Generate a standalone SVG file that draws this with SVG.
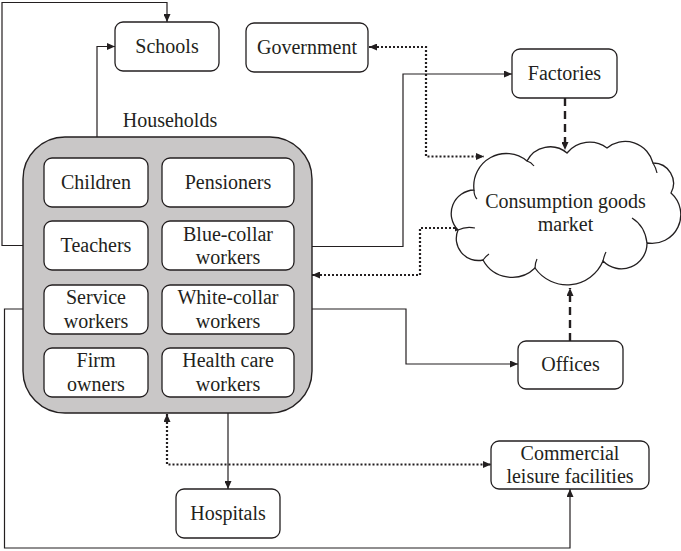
<svg xmlns="http://www.w3.org/2000/svg" width="681" height="551" viewBox="0 0 681 551">
<style>
  .box { fill: #ffffff; stroke: #231f20; stroke-width: 1.3; }
  .hh { fill: #c9c7c7; stroke: #231f20; stroke-width: 1.4; }
  .cloud { fill: #ffffff; stroke: #231f20; stroke-width: 1.3; }
  .hook { fill: none; stroke: #231f20; stroke-width: 1.2; }
  .t { font-family: 'Liberation Serif', 'DejaVu Serif', serif; font-size: 20px; fill: #231f20; text-anchor: middle; }
  .solid { fill: none; stroke: #231f20; stroke-width: 1.2; }
  .dotted { fill: none; stroke: #231f20; stroke-width: 2.2; stroke-dasharray: 2 2; }
  .dashed { fill: none; stroke: #231f20; stroke-width: 2.4; stroke-dasharray: 8 5; }
</style>
<defs>
  <marker id="arr" markerUnits="userSpaceOnUse" markerWidth="8" markerHeight="7" refX="8" refY="3.5" orient="auto-start-reverse">
    <path d="M0,0 L8,3.5 L0,7 z" fill="#231f20"/>
  </marker>
</defs>

<g id="connectors">
  <path class="solid" d="M44,245.5 H2 V2.5 H167 V22" marker-end="url(#arr)"/>
  <path class="solid" d="M97,158 V46.5 H115" marker-end="url(#arr)"/>
  <path class="solid" d="M294,246.5 H403 V74 H512" marker-end="url(#arr)"/>
  <path class="solid" d="M294,309 H406 V364 H518" marker-end="url(#arr)"/>
  <path class="solid" d="M44,309 H4.5 V548 H570 V489" marker-end="url(#arr)"/>
  <path class="solid" d="M228,397 V489" marker-end="url(#arr)"/>
  <path class="dotted" d="M369,47 H426 V156.5 H484" marker-start="url(#arr)" marker-end="url(#arr)"/>
  <path class="dotted" d="M312,275 H420 V228 H463" marker-start="url(#arr)" marker-end="url(#arr)"/>
  <path class="dotted" d="M167,414 V464.5 H491" marker-start="url(#arr)" marker-end="url(#arr)"/>
  <path class="dashed" d="M565,98 V150" marker-end="url(#arr)"/>
  <path class="dashed" d="M570,341 V288" marker-end="url(#arr)"/>
</g>

<g id="schools">
  <rect class="box" x="115" y="22" width="104" height="49" rx="8"/>
  <text class="t" x="167" y="53">Schools</text>
</g>
<g id="government">
  <rect class="box" x="246" y="23" width="122" height="49" rx="8"/>
  <text class="t" x="307" y="54">Government</text>
</g>
<g id="factories">
  <rect class="box" x="512" y="49" width="105" height="49" rx="8"/>
  <text class="t" x="564.5" y="80">Factories</text>
</g>
<g id="market">
  <path class="cloud" d="M474,190 A32.5,32.5 0 0 1 527,161 A26,26 0 0 1 567,153 A29,29 0 0 1 607,148 A28.7,28.7 0 0 1 653,163 A20.3,20.3 0 0 1 671,193 A28.8,28.8 0 0 1 647,243 A25.6,25.6 0 0 1 603,261 A39,39 0 0 1 535,268 A33,33 0 0 1 483,260 A22,22 0 0 1 458,230 A23.5,23.5 0 0 1 474,190 Z"/>
  <path class="hook" d="M474,190 Q474,196 477,199 M527,161 Q531,162 534,166 M653,163 Q656,168 657,173 M647,243 Q645,226 632,218 M458,230 Q466,226 475,228 M535,268 Q535,263 537,259 M483,260 Q486,256 489,254 M603,261 Q604,256 606,252"/>
  <text class="t" x="565.5" y="208">Consumption goods</text>
  <text class="t" x="565.5" y="231">market</text>
</g>
<g id="offices">
  <rect class="box" x="518" y="341" width="105" height="48" rx="8"/>
  <text class="t" x="570.5" y="371">Offices</text>
</g>
<g id="commercial">
  <rect class="box" x="491" y="441" width="158" height="48" rx="8"/>
  <text class="t" x="570" y="460">Commercial</text>
  <text class="t" x="570" y="483">leisure facilities</text>
</g>
<g id="hospitals">
  <rect class="box" x="176" y="489" width="104" height="49" rx="8"/>
  <text class="t" x="228" y="520">Hospitals</text>
</g>

<g id="households">
  <text class="t" x="170" y="127">Households</text>
  <rect class="hh" x="23" y="137" width="289" height="276" rx="42"/>
</g>
<g id="children">
  <rect class="box" x="44" y="158" width="104" height="49" rx="8"/>
  <text class="t" x="96" y="189">Children</text>
</g>
<g id="pensioners">
  <rect class="box" x="162" y="158" width="132" height="49" rx="8"/>
  <text class="t" x="228" y="189">Pensioners</text>
</g>
<g id="teachers">
  <rect class="box" x="44" y="221" width="104" height="49" rx="8"/>
  <text class="t" x="96" y="252">Teachers</text>
</g>
<g id="bluecollar">
  <rect class="box" x="162" y="221" width="132" height="49" rx="8"/>
  <text class="t" x="228" y="240.5">Blue-collar</text>
  <text class="t" x="228" y="264">workers</text>
</g>
<g id="service">
  <rect class="box" x="44" y="285" width="104" height="49" rx="8"/>
  <text class="t" x="96" y="304">Service</text>
  <text class="t" x="96" y="327.5">workers</text>
</g>
<g id="whitecollar">
  <rect class="box" x="162" y="285" width="132" height="49" rx="8"/>
  <text class="t" x="228" y="304">White-collar</text>
  <text class="t" x="228" y="327.5">workers</text>
</g>
<g id="firmowners">
  <rect class="box" x="44" y="348" width="104" height="49" rx="8"/>
  <text class="t" x="96" y="367">Firm</text>
  <text class="t" x="96" y="390.5">owners</text>
</g>
<g id="healthcare">
  <rect class="box" x="162" y="348" width="132" height="49" rx="8"/>
  <text class="t" x="228" y="367">Health care</text>
  <text class="t" x="228" y="390.5">workers</text>
</g>
</svg>
